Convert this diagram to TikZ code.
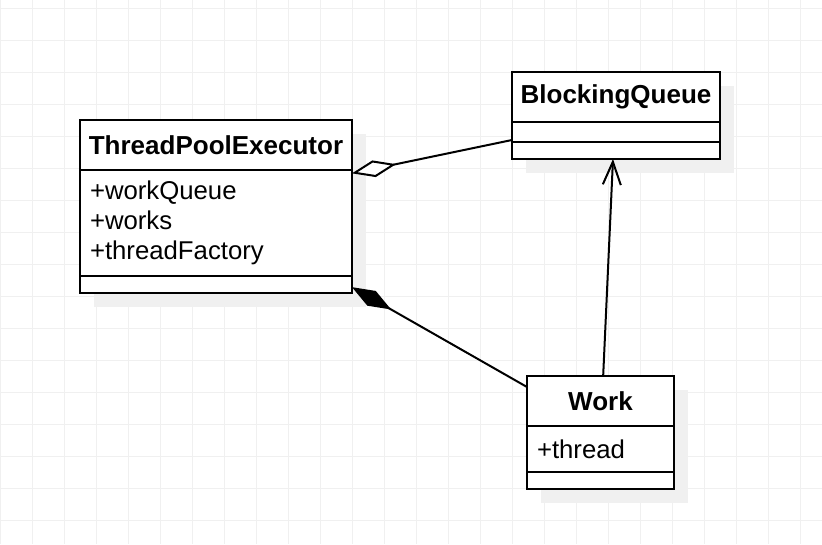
\documentclass[tikz,border=0pt]{standalone}
\usepackage{fontspec}
\setmainfont{Liberation Sans}
\usepackage{tikz}
\usetikzlibrary{
    arrows.meta,
    positioning,
    shadows
}

\definecolor{gridgray}{HTML}{F0F0F0}
\definecolor{shadowgray}{HTML}{F0F0F0}

\tikzset{
    gridline/.style={draw=gridgray, line width=0.75pt},
    classbox/.style={draw, fill=white, line width=1.5pt, outer sep=0pt,
        drop shadow={fill=shadowgray, opacity=1, shadow xshift=10.5pt, shadow yshift=-10.5pt}},
    classhead/.style={classbox, anchor=north west, minimum height=37.5pt,
        font=\bfseries\fontsize{19.5}{22.5}\selectfont},
    classattr/.style={classbox, align=left, inner xsep=7.5pt,
        font=\fontsize{19.3}{22.5}\selectfont},
    classop/.style={classbox, inner sep=0pt, minimum height=12.75pt},
    aggr/.style={line width=1.5pt, {Diamond[open, fill=white, length=33.75pt, width=12.75pt]}-},
    comp/.style={line width=1.5pt, {Diamond[length=33.75pt, width=12.75pt]}-},
    dep/.style={line width=1.5pt, -{Straight Barb[length=17.25pt, width=13.5pt]}}
}

\begin{document}
\begin{tikzpicture}[x=0.75pt, y=-0.75pt, node distance=0pt]
    \useasboundingbox (0,0) rectangle (822,544);
    % background grid
    \foreach \gx in {0,32,...,800} \draw[gridline] (\gx,0) -- (\gx,544);
    \foreach \gy in {8,40,...,520} \draw[gridline] (0,\gy) -- (822,\gy);

    % ThreadPoolExecutor
    \node[classhead, minimum width=204pt] (TPE) at (80,120) {ThreadPoolExecutor};
    \node[classattr, text width=189pt, minimum height=79.5pt, below=of TPE] (TPEa) {+workQueue\\+works\\+threadFactory};
    \node[classop, minimum width=204pt, below=of TPEa] (TPEo) {};

    % BlockingQueue
    \node[classhead, minimum width=156pt] (BQ) at (512,72) {BlockingQueue};
    \node[classop, minimum width=156pt, minimum height=15pt, below=of BQ] (BQa) {};
    \node[classop, minimum width=156pt, below=of BQa] (BQo) {};

    % Work
    \node[classhead, minimum width=110.25pt] (W) at (527,376) {Work};
    \node[classattr, text width=95.25pt, minimum height=34.5pt, below=of W] (Wa) {+thread};
    \node[classop, minimum width=110.25pt, below=of Wa] (Wo) {};

    % relations
    \draw[aggr] ([yshift=-2.5pt]TPEa.north east) -- ([yshift=1.5pt]BQo.north west);
    \draw[comp] ([yshift=-2pt]TPEo.east) -- ([yshift=-8.25pt]W.north west);
    \draw[dep] ([xshift=2pt]W.north) -- ([xshift=-2.25pt]BQo.south);
\end{tikzpicture}
\end{document}
